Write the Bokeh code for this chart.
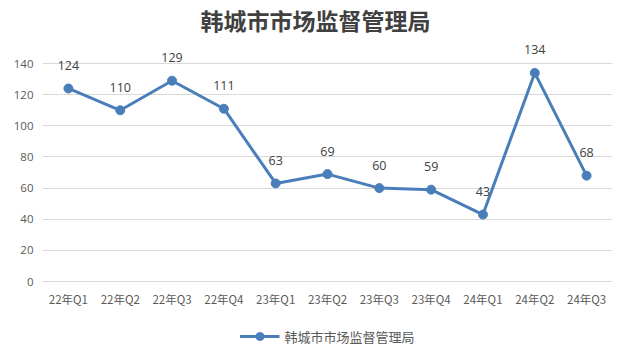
from bokeh.plotting import figure
from bokeh.layouts import column
from bokeh.models import ColumnDataSource, Legend, LegendItem, FixedTicker, LabelSet, Range1d, FactorRange
from bokeh.core.properties import value
from bokeh.embed import file_html
from bokeh.resources import INLINE

categories = ["22年Q1", "22年Q2", "22年Q3", "22年Q4", "23年Q1", "23年Q2",
              "23年Q3", "23年Q4", "24年Q1", "24年Q2", "24年Q3"]
values = [124, 110, 129, 111, 63, 69, 60, 59, 43, 134, 68]
y_ticks = [0, 20, 40, 60, 80, 100, 120, 140]
series_name = "韩城市市场监督管理局"

src = ColumnDataSource(dict(x=categories, y=values, lab=[str(v) for v in values]))

color = "#4a7ebb"

fig = figure(x_range=categories, y_range=(0, 157.4), width=632, height=318,
             output_backend="svg", toolbar_location=None,
             min_border_left=42, min_border_right=20, min_border_top=2, min_border_bottom=37)
fig.background_fill_color = "white"
fig.border_fill_color = "white"
fig.outline_line_color = None
fig.x_range.range_padding = 0

fig.title.text = series_name
fig.title.align = "left"
fig.title.offset = 158
fig.title.text_font = "Noto Sans CJK SC"
fig.title.text_font_size = "23px"
fig.title.text_font_style = "bold"
fig.title.text_color = "#404040"
fig.title.standoff = 0

fig.line("x", "y", source=src, line_color=color, line_width=3)
fig.scatter("x", "y", source=src, size=9, fill_color=color, line_color=color)

labels = LabelSet(x="x", y="y", text="lab", source=src, text_align="center",
                  text_baseline="middle", y_offset=23, text_font=value("Open Sans"),
                  text_font_size="12.5px", text_color="#404040")
fig.add_layout(labels)

fig.yaxis.ticker = FixedTicker(ticks=y_ticks)
fig.yaxis.axis_line_color = None
fig.yaxis.major_tick_line_color = None
fig.yaxis.minor_tick_line_color = None
fig.yaxis.major_tick_out = 0
fig.yaxis.major_tick_in = 0
fig.yaxis.major_label_standoff = 9
fig.yaxis.major_label_text_font = "Open Sans"
fig.yaxis.major_label_text_font_size = "11.5px"
fig.yaxis.major_label_text_color = "#595959"

fig.xaxis.axis_line_color = "#d9d9d9"
fig.xaxis.major_tick_line_color = None
fig.xaxis.minor_tick_line_color = None
fig.xaxis.major_tick_out = 0
fig.xaxis.major_tick_in = 0
fig.xaxis.major_label_standoff = 9
fig.xaxis.major_label_text_font = "Noto Sans CJK SC"
fig.xaxis.major_label_text_font_size = "11.5px"
fig.xaxis.major_label_text_color = "#595959"

fig.xgrid.grid_line_color = None
fig.ygrid.grid_line_color = "#d9d9d9"
fig.ygrid.ticker = FixedTicker(ticks=y_ticks)

# legend strip below the chart (series drawn out of view, only its legend shows)
leg_fig = figure(width=632, height=36, output_backend="svg", toolbar_location=None,
                 x_range=FactorRange(*categories), y_range=Range1d(1000, 1001),
                 min_border=0)
leg_fig.axis.visible = False
leg_fig.grid.visible = False
leg_fig.outline_line_color = None
leg_fig.background_fill_color = "white"
leg_fig.border_fill_color = "white"
l1 = leg_fig.line("x", "y", source=src, line_color=color, line_width=3)
l2 = leg_fig.scatter("x", "y", source=src, size=9, fill_color=color, line_color=color)

legend = Legend(items=[LegendItem(label=series_name, renderers=[l1, l2])],
                orientation="horizontal", location="center",
                label_text_font="Noto Sans CJK SC", label_text_font_size="13px",
                label_text_color="#595959", border_line_color=None,
                background_fill_alpha=0, glyph_width=40,
                margin=0, padding=0)
leg_fig.add_layout(legend)

p = column(fig, leg_fig, spacing=0)

open("out.html", "w").write(file_html(p, INLINE))
